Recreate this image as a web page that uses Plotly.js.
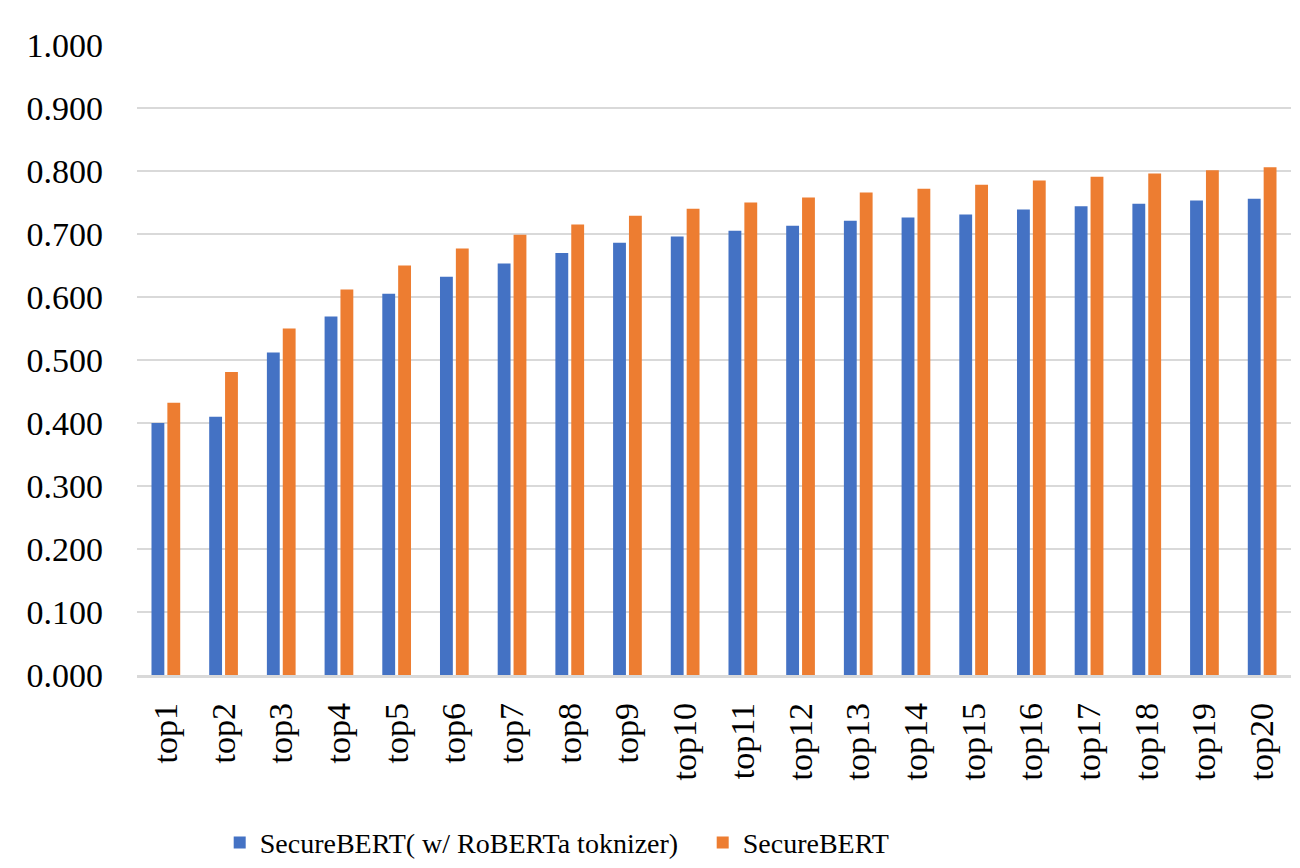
<!DOCTYPE html>
<html>
<head>
<meta charset="utf-8">
<script src="https://cdn.plot.ly/plotly-3.0.1.min.js"></script>
<style>html,body{margin:0;padding:0;background:#fff;}#chart{width:1300px;height:868px;}</style>
</head>
<body>
<div id="chart"></div>
<script>
const categories = ["top1","top2","top3","top4","top5","top6","top7","top8","top9","top10","top11","top12","top13","top14","top15","top16","top17","top18","top19","top20"];
const seriesNames = ["SecureBERT( w/ RoBERTa toknizer)", "SecureBERT"];
const robertaTok = [0.400,0.410,0.512,0.569,0.605,0.632,0.653,0.670,0.686,0.696,0.705,0.713,0.721,0.726,0.731,0.739,0.744,0.748,0.753,0.756];
const secureBert = [0.432,0.481,0.550,0.612,0.650,0.677,0.699,0.715,0.729,0.740,0.750,0.758,0.766,0.772,0.778,0.785,0.791,0.796,0.801,0.806];
const yTicks = [0,0.1,0.2,0.3,0.4,0.5,0.6,0.7,0.8,0.9,1.0];

const font = "'Liberation Serif', 'DejaVu Serif', serif";
const traces = [
  {type:'bar', name:seriesNames[0], x:categories, y:robertaTok, marker:{color:'#4472C4'}},
  {type:'bar', name:seriesNames[1], x:categories, y:secureBert, marker:{color:'#ED7D31'}}
];
const layout = {
  width:1300, height:868,
  margin:{l:137, r:9, t:45, b:193},
  paper_bgcolor:'#fff', plot_bgcolor:'#fff',
  barmode:'group', bargap:0.45, bargroupgap:0.19,
  font:{family:font, size:30, color:'#000'},
  showlegend:true,
  legend:{orientation:'h', xref:'container', yref:'container', x:0.169, xanchor:'left', y:0.029, yanchor:'middle',
          entrywidth:438, entrywidthmode:'pixels',
          font:{family:font, size:28, color:'#000'}, traceorder:'normal'},
  xaxis:{type:'category', tickangle:-90, showgrid:false, showline:true, linecolor:'#d9d9d9', linewidth:2.5,
         automargin:false, ticks:'', ticklabelstandoff:12, tickfont:{family:font, size:34}},
  yaxis:{range:[0,1], tickvals:yTicks, tickformat:'.3f', showgrid:true, gridcolor:'#d9d9d9', gridwidth:2.5,
         automargin:false, zeroline:false, showline:false, ticks:'', ticklabelstandoff:33, tickfont:{family:font, size:34}}
};
Plotly.newPlot('chart', traces, layout, {displayModeBar:false, staticPlot:true});
</script>
</body>
</html>
